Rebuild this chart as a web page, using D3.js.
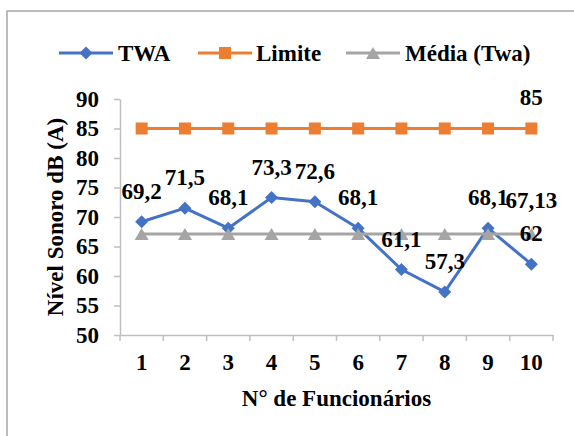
<!DOCTYPE html>
<html><head><meta charset="utf-8">
<script src="https://cdn.jsdelivr.net/npm/d3@7"></script>
</head>
<body style="margin:0;background:#fff"><svg id="c" width="574" height="436"></svg>
<script>
const categories = ["1","2","3","4","5","6","7","8","9","10"];
const twa = [69.2, 71.5, 68.1, 73.3, 72.6, 68.1, 61.1, 57.3, 68.1, 62];
const limite = [85,85,85,85,85,85,85,85,85,85];
const media = [67.13,67.13,67.13,67.13,67.13,67.13,67.13,67.13,67.13,67.13];
const twaLabels = ["69,2","71,5","68,1","73,3","72,6","68,1","61,1","57,3","68,1","62"];
const yTicks = [50,55,60,65,70,75,80,85,90];

const svg = d3.select("#c");
const FS = 23;
const FF = '"Liberation Serif"';
const axisColor = "#bfbfbf";
function styleText(sel){
  return sel.style("font-family",FF).style("font-weight","bold").style("font-size",FS+"px").attr("fill","#000");
}

// frame
svg.append("rect").attr("x",7).attr("y",11).attr("width",600).attr("height",500)
  .attr("fill","none").attr("stroke","#a6a6a6").attr("stroke-width",1.5);

const x = d3.scaleBand().domain(categories).range([120,553]).padding(0);
const y = d3.scaleLinear().domain([50,90]).range([335,99]);
const cx = c => x(c) + x.bandwidth()/2;

// y axis
const ya = svg.append("g").attr("transform","translate(120,0)")
  .call(d3.axisLeft(y).tickValues(yTicks).tickSize(6).tickSizeOuter(0).tickPadding(15));
ya.select(".domain").attr("stroke",axisColor).attr("stroke-width",1.5);
ya.selectAll(".tick line").attr("stroke",axisColor).attr("stroke-width",1.5);
styleText(ya.selectAll(".tick text"));

// x axis
const xa = svg.append("g").attr("transform","translate(0,335)")
  .call(d3.axisBottom(x).tickSize(0).tickSizeOuter(0).tickPadding(19));
xa.select(".domain").attr("stroke",axisColor).attr("stroke-width",1.5);
styleText(xa.selectAll(".tick text"));
const bounds = categories.map(c => x(c)).concat([x.range()[1]]);
svg.append("g").selectAll("line").data(bounds).join("line")
  .attr("x1",d=>d).attr("x2",d=>d).attr("y1",335).attr("y2",341)
  .attr("stroke",axisColor).attr("stroke-width",1.5);

// titles
styleText(svg.append("text").attr("x",336.5).attr("y",406).attr("text-anchor","middle"))
  .text("N° de Funcionários");
styleText(svg.append("text").attr("transform","translate(63,217) rotate(-90)").attr("text-anchor","middle"))
  .text("Nível Sonoro dB (A)");

const line = d3.line().x((d,i)=>cx(categories[i])).y(d=>y(d));
const series = [
  {name:"TWA", data:twa, color:"#4472C4", marker:"diamond"},
  {name:"Limite", data:limite, color:"#ED7D31", marker:"square"},
  {name:"Média (Twa)", data:media, color:"#A5A5A5", marker:"triangle"}
];
function markerPath(type){
  if(type==="diamond") return "M0,-6.5L6.5,0L0,6.5L-6.5,0Z";
  if(type==="square") return "M-6,-6H6V6H-6Z";
  return "M0,-6L7,6H-7Z";
}
series.forEach(s=>{
  svg.append("path").datum(s.data).attr("d",line).attr("fill","none")
    .attr("stroke",s.color).attr("stroke-width",3).attr("stroke-linejoin","round");
  svg.append("g").selectAll("path").data(s.data).join("path")
    .attr("transform",(d,i)=>`translate(${cx(categories[i])},${y(d)})`)
    .attr("d",markerPath(s.marker)).attr("fill",s.color);
});

// data labels
styleText(svg.append("g").selectAll("text").data(twa).join("text")
  .attr("x",(d,i)=>cx(categories[i])).attr("y",d=>y(d)-23).attr("text-anchor","middle"))
  .text((d,i)=>twaLabels[i]);
styleText(svg.append("text").attr("x",cx("10")).attr("y",y(limite[9])-24).attr("text-anchor","middle"))
  .text("85");
styleText(svg.append("text").attr("x",cx("10")).attr("y",y(media[9])-26).attr("text-anchor","middle"))
  .text("67,13");

// legend
const leg = [
  {s:series[0], x0:59, tx:118},
  {s:series[1], x0:198, tx:256},
  {s:series[2], x0:346, tx:405}
];
leg.forEach(l=>{
  svg.append("line").attr("x1",l.x0).attr("x2",l.x0+54).attr("y1",53).attr("y2",53)
    .attr("stroke",l.s.color).attr("stroke-width",3);
  svg.append("path").attr("transform",`translate(${l.x0+27},53)`).attr("d",markerPath(l.s.marker)).attr("fill",l.s.color);
  styleText(svg.append("text").attr("x",l.tx).attr("y",61)).text(l.s.name);
});
</script></body></html>
